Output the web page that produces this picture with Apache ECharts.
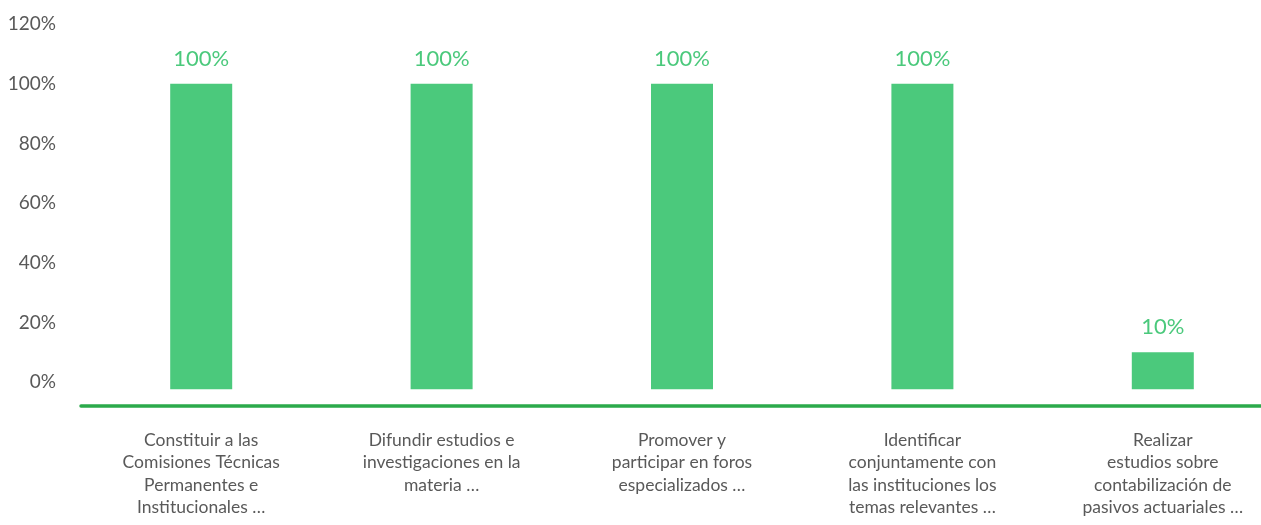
<!DOCTYPE html>
<html>
<head>
<meta charset="utf-8">
<script src="https://cdn.jsdelivr.net/npm/echarts@6/dist/echarts.min.js"></script>
<style>
  html, body { margin: 0; padding: 0; background: #fff; }
  #chart { width: 1261px; height: 525px; }
</style>
</head>
<body>
<div id="chart"></div>
<script>
// 类目（原图中已换行）
const categories = [
  'Constituir a las\nComisiones Técnicas\nPermanentes e\nInstitucionales …',
  'Difundir estudios e\ninvestigaciones en la\nmateria …',
  'Promover y\nparticipar en foros\nespecializados …',
  'Identificar\nconjuntamente con\nlas instituciones los\ntemas relevantes …',
  'Realizar\nestudios sobre\ncontabilización de\npasivos actuariales …'
]
const values = [100, 100, 100, 100, 10]
const yTicks = [0, 20, 40, 60, 80, 100, 120]

const chart = echarts.init(document.getElementById('chart'))

chart.setOption({
  animation: false,
  grid: { left: 81, right: -22, top: 24, bottom: 119, outerBoundsMode: 'none', containLabel: false },
  xAxis: {
    type: 'category',
    data: categories,
    axisLine: { onZero: false, lineStyle: { color: '#2BAA4B', width: 3.5 } },
    axisTick: { show: false },
    axisLabel: {
      interval: 0,
      margin: 23,
      color: '#595959',
      fontFamily: 'Lato',
      fontSize: 17.5,
      lineHeight: 22.5,
      align: 'center'
    }
  },
  yAxis: {
    type: 'value',
    min: -8,
    max: 120,
    startValue: -2.4,
    axisLine: { show: false },
    axisTick: { show: false },
    splitLine: { show: false },
    axisLabel: {
      customValues: yTicks,
      formatter: '{value}%',
      color: '#595959',
      fontFamily: 'Lato',
      fontSize: 19,
      margin: 25
    }
  },
  series: [
    {
      type: 'bar',
      data: values,
      barWidth: 62,
      itemStyle: { color: '#4BC97C' },
      label: {
        show: true,
        position: 'top',
        distance: 14,
        formatter: '{c}%',
        color: '#4BC97C',
        fontFamily: 'Lato',
        fontSize: 22
      }
    }
  ]
})
</script>
</body>
</html>
